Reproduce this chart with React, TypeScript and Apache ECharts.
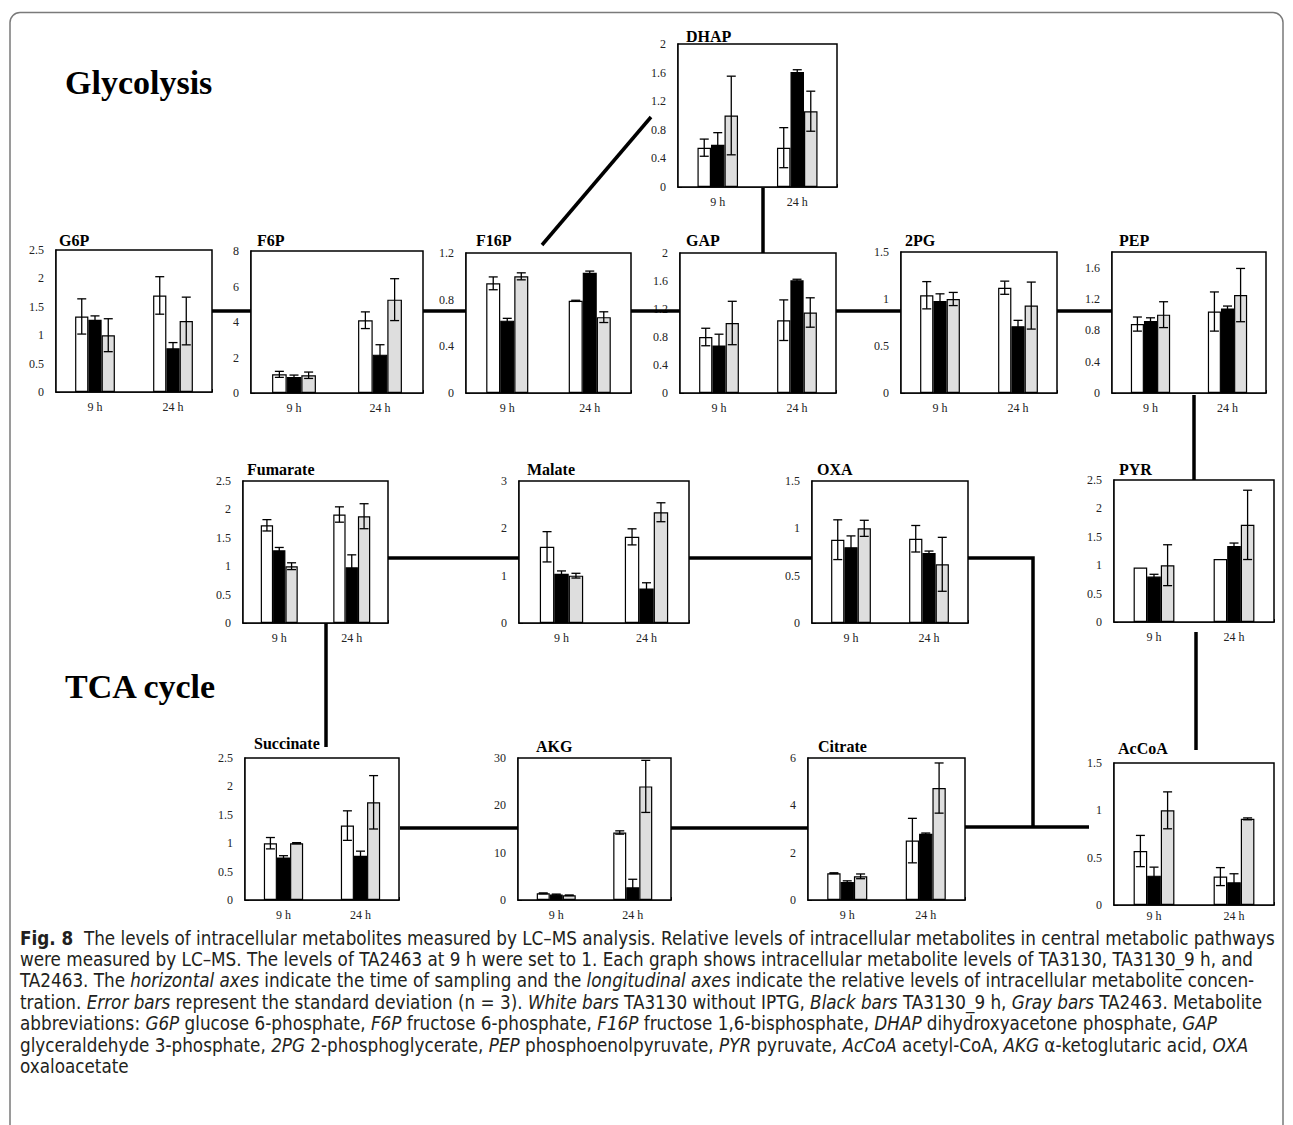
import React, { useEffect, useRef } from 'react';
import * as echarts from 'echarts';

const timePoints = ['9 h', '24 h'];
const strainNames = ['TA3130 without IPTG', 'TA3130_9 h', 'TA2463'];
const strainColors = ['#ffffff', '#000000', '#dedede'];

// [strain][time]  strain order: white, black, gray
const g6pMean = [[1.33, 1.70], [1.27, 0.77], [1.00, 1.25]];
const g6pSd = [[0.31, 0.33], [0.07, 0.10], [0.29, 0.42]];
const f6pMean = [[1.05, 4.10], [0.90, 2.16], [1.00, 5.26]];
const f6pSd = [[0.17, 0.47], [0.11, 0.56], [0.18, 1.18]];
const f16pMean = [[0.94, 0.79], [0.62, 1.03], [1.00, 0.65]];
const f16pSd = [[0.055, 0.005], [0.02, 0.015], [0.03, 0.046]];
const dhapMean = [[0.55, 0.55], [0.59, 1.61], [1.00, 1.06]];
const dhapSd = [[0.12, 0.28], [0.17, 0.03], [0.55, 0.28]];
const gapMean = [[0.80, 1.04], [0.68, 1.61], [1.00, 1.15]];
const gapSd = [[0.125, 0.29], [0.16, 0.015], [0.31, 0.21]];
const pg2Mean = [[1.04, 1.12], [0.98, 0.71], [1.00, 0.93]];
const pg2Sd = [[0.145, 0.07], [0.075, 0.063], [0.07, 0.25]];
const pepMean = [[0.88, 1.04], [0.92, 1.08], [1.00, 1.25]];
const pepSd = [[0.09, 0.25], [0.04, 0.03], [0.165, 0.34]];
const pyrMean = [[0.96, 1.11], [0.80, 1.34], [1.00, 1.71]];
const pyrSd = [[0, 0], [0.04, 0.05], [0.36, 0.61]];
const accoaMean = [[0.57, 0.30], [0.31, 0.24], [1.00, 0.91]];
const accoaSd = [[0.165, 0.095], [0.09, 0.09], [0.195, 0.01]];
const fumMean = [[1.72, 1.91], [1.28, 0.98], [1.00, 1.88]];
const fumSd = [[0.10, 0.135], [0.05, 0.22], [0.06, 0.22]];
const malMean = [[1.61, 1.82], [1.04, 0.73], [1.00, 2.34]];
const malSd = [[0.32, 0.17], [0.06, 0.12], [0.05, 0.20]];
const oxaMean = [[0.88, 0.89], [0.80, 0.74], [1.00, 0.62]];
const oxaSd = [[0.21, 0.14], [0.12, 0.02], [0.085, 0.285]];
const sucMean = [[1.00, 1.31], [0.75, 0.78], [1.00, 1.72]];
const sucSd = [[0.10, 0.26], [0.03, 0.08], [0.01, 0.47]];
const akgMean = [[1.40, 14.26], [1.15, 2.68], [1.00, 24.0]];
const akgSd = [[0.10, 0.35], [0.10, 1.70], [0.05, 5.5]];
const citMean = [[1.13, 2.51], [0.76, 2.80], [1.00, 4.73]];
const citSd = [[0.02, 0.94], [0.05, 0.03], [0.10, 1.06]];

const captionLines = [
  '{b|Fig. 8}  The levels of intracellular metabolites measured by LC–MS analysis. Relative levels of intracellular metabolites in central metabolic pathways',
  'were measured by LC–MS. The levels of TA2463 at 9 h were set to 1. Each graph shows intracellular metabolite levels of TA3130, TA3130_9 h, and',
  'TA2463. The {i|horizontal axes} indicate the time of sampling and the {i|longitudinal axes} indicate the relative levels of intracellular metabolite concen-',
  'tration. {i|Error bars} represent the standard deviation (n = 3). {i|White bars} TA3130 without IPTG, {i|Black bars} TA3130_9 h, {i|Gray bars} TA2463. Metabolite',
  'abbreviations: {i|G6P} glucose 6-phosphate, {i|F6P} fructose 6-phosphate, {i|F16P} fructose 1,6-bisphosphate, {i|DHAP} dihydroxyacetone phosphate, {i|GAP}',
  'glyceraldehyde 3-phosphate, {i|2PG} 2-phosphoglycerate, {i|PEP} phosphoenolpyruvate, {i|PYR} pyruvate, {i|AcCoA} acetyl-CoA, {i|AKG} α-ketoglutaric acid, {i|OXA}',
  'oxaloacetate',
];

const SERIF = "'Liberation Serif', 'Times New Roman', serif";
const CAPTION_FONT = "'Liberation Sans Narrow', 'DejaVu Sans Condensed', 'Liberation Sans', sans-serif";

const panels = [
  { name: 'G6P', mean: g6pMean, sd: g6pSd, max: 2.5, interval: 0.5, box: [56, 250, 156, 142], title: [59, 240] },
  { name: 'F6P', mean: f6pMean, sd: f6pSd, max: 8, interval: 2, box: [251, 251, 172, 142], title: [257, 240] },
  { name: 'F16P', mean: f16pMean, sd: f16pSd, max: 1.2, interval: 0.4, box: [466, 253, 165, 140], title: [476, 240] },
  { name: 'DHAP', mean: dhapMean, sd: dhapSd, max: 2, interval: 0.4, box: [678, 44, 159, 143], title: [686, 36] },
  { name: 'GAP', mean: gapMean, sd: gapSd, max: 2, interval: 0.4, box: [680, 253, 156, 140], title: [686, 240] },
  { name: '2PG', mean: pg2Mean, sd: pg2Sd, max: 1.5, interval: 0.5, box: [901, 252, 156, 141], title: [905, 240] },
  { name: 'PEP', mean: pepMean, sd: pepSd, max: 1.8, interval: 0.4, box: [1112, 252, 154, 141], title: [1119, 240], hideMax: true },
  { name: 'Fumarate', mean: fumMean, sd: fumSd, max: 2.5, interval: 0.5, box: [243, 481, 145, 142], title: [247, 469] },
  { name: 'Malate', mean: malMean, sd: malSd, max: 3, interval: 1, box: [519, 481, 170, 142], title: [527, 469] },
  { name: 'OXA', mean: oxaMean, sd: oxaSd, max: 1.5, interval: 0.5, box: [812, 481, 156, 142], title: [817, 469] },
  { name: 'PYR', mean: pyrMean, sd: pyrSd, max: 2.5, interval: 0.5, box: [1114, 480, 160, 142], title: [1119, 469] },
  { name: 'Succinate', mean: sucMean, sd: sucSd, max: 2.5, interval: 0.5, box: [245, 758, 154, 142], title: [254, 743] },
  { name: 'AKG', mean: akgMean, sd: akgSd, max: 30, interval: 10, box: [518, 758, 153, 142], title: [536, 746] },
  { name: 'Citrate', mean: citMean, sd: citSd, max: 6, interval: 2, box: [808, 758, 157, 142], title: [818, 746] },
  { name: 'AcCoA', mean: accoaMean, sd: accoaSd, max: 1.5, interval: 0.5, box: [1114, 763, 160, 142], title: [1118, 748], labelMargin: 5 },
];

const connectors: number[][][] = [
  [[212, 311], [251, 311]],
  [[423, 311], [466, 311]],
  [[631, 311], [680, 311]],
  [[836, 311], [901, 311]],
  [[1057, 311], [1112, 311]],
  [[542, 245], [651, 117]],
  [[763, 188], [763, 253]],
  [[1194, 395], [1194, 480]],
  [[388, 558], [519, 558]],
  [[689, 558], [812, 558]],
  [[968, 558], [1033, 558], [1033, 827]],
  [[965, 827], [1089, 827]],
  [[400, 828], [518, 828]],
  [[671, 828], [808, 828]],
  [[326, 623], [326, 747]],
  [[1196, 632], [1196, 750]],
];

const GAP_RATIO = 0.49;

function buildOption() {
  const grid: any[] = [];
  const xAxis: any[] = [];
  const yAxis: any[] = [];
  const series: any[] = [];
  const graphic: any[] = [];

  graphic.push({
    type: 'rect', z: 0, silent: true,
    shape: { x: 10, y: 12.5, width: 1273, height: 1200, r: 10 },
    style: { fill: 'none', stroke: '#7a7a7a', lineWidth: 1.5 },
  });

  connectors.forEach((pts) => {
    graphic.push({
      type: 'polyline', z: 1, silent: true,
      shape: { points: pts },
      style: { stroke: '#000', lineWidth: 3.5, fill: 'none' },
    });
  });

  panels.forEach((p: any, i) => {
    const [l, t, w, h] = p.box;
    grid.push({ left: l, top: t, width: w, height: h, show: true, borderColor: '#000', borderWidth: 1.5, backgroundColor: '#fff', z: 2 });
    xAxis.push({
      type: 'category', gridIndex: i, data: timePoints,
      axisLine: { lineStyle: { color: '#000', width: 1.5 } },
      axisTick: { show: true, inside: true, length: 3, lineStyle: { color: '#000', width: 1 } },
      axisLabel: { color: '#222', fontSize: 12, margin: p.labelMargin ?? 9, fontFamily: SERIF },
      splitLine: { show: false },
    });
    yAxis.push({
      type: 'value', gridIndex: i, min: 0, max: p.max, interval: p.interval,
      axisLine: { show: true, lineStyle: { color: '#000', width: 1.5 } },
      axisTick: { show: true, inside: true, length: 4, lineStyle: { color: '#000', width: 1 } },
      axisLabel: { color: '#222', fontSize: 12, margin: 12, fontFamily: SERIF, showMaxLabel: !p.hideMax },
      splitLine: { show: false },
    });
    p.mean.forEach((vals: number[], s: number) => {
      series.push({
        type: 'bar', name: strainNames[s], xAxisIndex: i, yAxisIndex: i, data: vals,
        barGap: '0%', barCategoryGap: GAP_RATIO * 100 + '%', silent: true, z: 3,
        itemStyle: { color: strainColors[s], borderColor: '#000', borderWidth: 1.2 },
      });
    });
    const errData: number[][] = [];
    p.mean.forEach((vals: number[], s: number) => vals.forEach((v, ti) => errData.push([ti, v, p.sd[s][ti], s])));
    series.push({
      type: 'custom', xAxisIndex: i, yAxisIndex: i, data: errData, z: 6, silent: true,
      dimensions: ['t', 'v', 'e', 's'],
      encode: { x: 't', y: 'v' },
      renderItem: (params: any, api: any) => {
        const ti = api.value(0);
        const v = api.value(1);
        const e = api.value(2);
        const s = api.value(3);
        if (!e) return { type: 'group', children: [] };
        const catW = api.size([1, 0])[0];
        const barW = (catW * (1 - GAP_RATIO)) / 3;
        const c = api.coord([ti, v]);
        const x = c[0] + (s - 1) * barW;
        const yTop = api.coord([ti, v + e])[1];
        const yBot = api.coord([ti, Math.max(0, v - e)])[1];
        const cap = 4.5;
        const style = { stroke: '#000', lineWidth: 1.3 };
        return {
          type: 'group',
          children: [
            { type: 'line', shape: { x1: x, y1: yTop, x2: x, y2: yBot }, style },
            { type: 'line', shape: { x1: x - cap, y1: yTop, x2: x + cap, y2: yTop }, style },
            { type: 'line', shape: { x1: x - cap, y1: yBot, x2: x + cap, y2: yBot }, style },
          ],
        };
      },
    });
    graphic.push({
      type: 'text', z: 10, silent: true, x: p.title[0], y: p.title[1],
      style: { text: p.name, fill: '#000', fontSize: 16, fontWeight: 'bold', fontFamily: SERIF, verticalAlign: 'middle', align: 'left' },
    });
  });

  graphic.push({
    type: 'text', z: 10, silent: true, x: 65, y: 82,
    style: { text: 'Glycolysis', fill: '#000', fontSize: 34, fontWeight: 'bold', fontFamily: SERIF, verticalAlign: 'middle' },
  });
  graphic.push({
    type: 'text', z: 10, silent: true, x: 65, y: 686,
    style: { text: 'TCA cycle', fill: '#000', fontSize: 34, fontWeight: 'bold', fontFamily: SERIF, verticalAlign: 'middle' },
  });

  const capSize = 18.7;
  captionLines.forEach((line, k) => {
    graphic.push({
      type: 'text', z: 10, silent: true, x: 20, y: 938 + k * 21.4,
      style: {
        text: line, fill: '#231f20', fontSize: capSize, fontFamily: CAPTION_FONT, verticalAlign: 'middle',
        rich: {
          b: { fontSize: capSize, fontFamily: CAPTION_FONT, fontWeight: 'bold', fill: '#231f20' },
          i: { fontSize: capSize, fontFamily: CAPTION_FONT, fontStyle: 'italic', fill: '#231f20' },
        },
      },
    });
  });

  return {
    animation: false,
    backgroundColor: '#fff',
    textStyle: { fontFamily: SERIF },
    grid, xAxis, yAxis, series, graphic,
  };
}

export default function App() {
  const ref = useRef<HTMLDivElement>(null);
  useEffect(() => {
    document.body.style.margin = '0';
    if (!ref.current) return;
    const chart = echarts.init(ref.current, undefined, { renderer: 'svg' });
    chart.setOption(buildOption() as any);
    return () => chart.dispose();
  }, []);
  return <div ref={ref} style={{ width: 1293, height: 1125 }} />;
}
